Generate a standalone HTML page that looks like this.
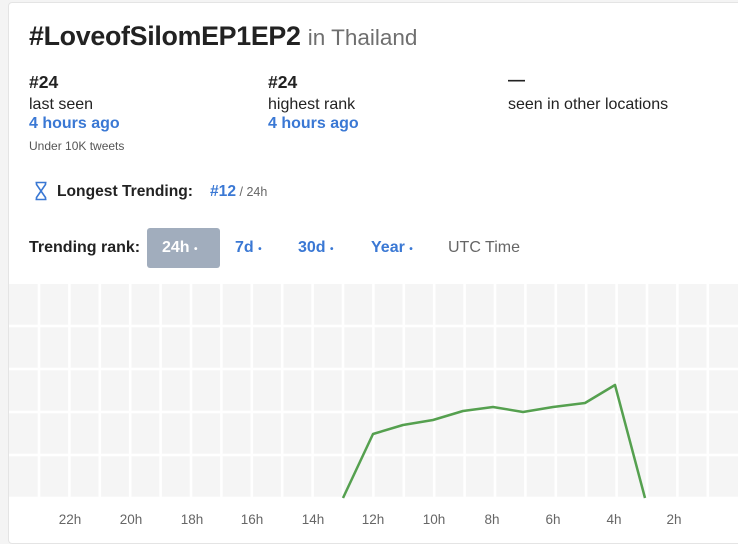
<!DOCTYPE html>
<html><head><style>
body{margin:0;width:738px;height:527px;background:#f4f4f4;font-family:"Liberation Sans",sans-serif;position:relative;overflow:hidden}
.card{position:absolute;left:8px;top:2px;width:740px;height:540px;background:#fff;border:1px solid #e4e4e4;border-radius:4px}
.a{position:absolute;white-space:nowrap}
.b{color:#222;font-weight:bold}
.blue{color:#3a78d4;font-weight:bold}
</style></head><body>
<div class="card"></div>
<div class="a b" style="left:29px;top:21px;font-size:26.8px;letter-spacing:-0.3px">#LoveofSilomEP1EP2 <span style="font-weight:normal;color:#6f6f6f;font-size:22.5px;letter-spacing:0">in Thailand</span></div>
<div class="a b" style="left:29px;top:72px;font-size:17.5px">#24</div>
<div class="a" style="left:29px;top:96px;font-size:16px;color:#222">last seen</div>
<div class="a blue" style="left:29px;top:115px;font-size:16px">4 hours ago</div>
<div class="a" style="left:29px;top:139px;font-size:12px;color:#555">Under 10K tweets</div>
<div class="a b" style="left:268px;top:72px;font-size:17.5px">#24</div>
<div class="a" style="left:268px;top:96px;font-size:16px;color:#222">highest rank</div>
<div class="a blue" style="left:268px;top:115px;font-size:16px">4 hours ago</div>
<div class="a b" style="left:508px;top:70px;font-size:17px">—</div>
<div class="a" style="left:508px;top:96px;font-size:16px;color:#222">seen in other locations</div>
<svg class="a" style="left:34px;top:181px" width="14" height="20"><path d="M1.5 1.5h11M1.5 18.5h11M2.5 1.5v2l9 13v2M11.5 1.5v2l-9 13v2" stroke="#3a78d4" stroke-width="1.6" fill="none"/></svg>
<div class="a b" style="left:57px;top:183px;font-size:15.6px">Longest Trending:</div>
<div class="a" style="left:210px;top:183px;font-size:15.6px"><span class="blue">#12</span><span style="color:#666;font-size:12.5px"> / 24h</span></div>
<div class="a b" style="left:29px;top:239px;font-size:16px">Trending rank:</div>
<div class="a" style="left:147px;top:228px;width:73px;height:40px;background:#a1adbd;border-radius:3px"></div>
<div class="a" style="left:162px;top:239px;font-size:16px;color:#fff;font-weight:bold">24h <span style="font-size:10px">•</span></div>
<div class="a blue" style="left:235px;top:239px;font-size:16px">7d <span style="font-size:10px">•</span></div>
<div class="a blue" style="left:298px;top:239px;font-size:16px">30d <span style="font-size:10px">•</span></div>
<div class="a blue" style="left:371px;top:239px;font-size:16px">Year <span style="font-size:10px">•</span></div>
<div class="a" style="left:448px;top:239px;font-size:16px;color:#666">UTC Time</div>
<svg class="a" style="left:0;top:0" width="738" height="527">
<rect x="9" y="284" width="729" height="214" fill="#f5f5f5"/>
<g stroke="#fff" stroke-width="2.5">
<line x1="9" x2="738" y1="326" y2="326"/><line x1="9" x2="738" y1="369" y2="369"/><line x1="9" x2="738" y1="412" y2="412"/><line x1="9" x2="738" y1="455" y2="455"/><line x1="9" x2="738" y1="498" y2="498"/>
<line x1="39" x2="39" y1="284" y2="498"/><line x1="69.4" x2="69.4" y1="284" y2="498"/><line x1="99.8" x2="99.8" y1="284" y2="498"/><line x1="130.2" x2="130.2" y1="284" y2="498"/><line x1="160.6" x2="160.6" y1="284" y2="498"/><line x1="191" x2="191" y1="284" y2="498"/><line x1="221.4" x2="221.4" y1="284" y2="498"/><line x1="251.8" x2="251.8" y1="284" y2="498"/><line x1="282.2" x2="282.2" y1="284" y2="498"/><line x1="312.6" x2="312.6" y1="284" y2="498"/><line x1="343" x2="343" y1="284" y2="498"/><line x1="373.4" x2="373.4" y1="284" y2="498"/><line x1="403.8" x2="403.8" y1="284" y2="498"/><line x1="434.2" x2="434.2" y1="284" y2="498"/><line x1="464.6" x2="464.6" y1="284" y2="498"/><line x1="495" x2="495" y1="284" y2="498"/><line x1="525.4" x2="525.4" y1="284" y2="498"/><line x1="555.8" x2="555.8" y1="284" y2="498"/><line x1="586.2" x2="586.2" y1="284" y2="498"/><line x1="616.6" x2="616.6" y1="284" y2="498"/><line x1="647" x2="647" y1="284" y2="498"/><line x1="677.4" x2="677.4" y1="284" y2="498"/><line x1="707.8" x2="707.8" y1="284" y2="498"/>
</g>
<polyline points="343,498 373,434 403,425 433,420 463,411 493,407 523,412 553,407 585,403 615,385 645,498" fill="none" stroke="#55a04f" stroke-width="2.5" stroke-linejoin="round"/>
<g font-size="13.5" fill="#666" text-anchor="middle" font-family="Liberation Sans,sans-serif">
<text x="70" y="524">22h</text><text x="131" y="524">20h</text><text x="192" y="524">18h</text><text x="252" y="524">16h</text><text x="313" y="524">14h</text><text x="373" y="524">12h</text><text x="434" y="524">10h</text><text x="492" y="524">8h</text><text x="553" y="524">6h</text><text x="614" y="524">4h</text><text x="674" y="524">2h</text>
</g>
</svg>
</body></html>
